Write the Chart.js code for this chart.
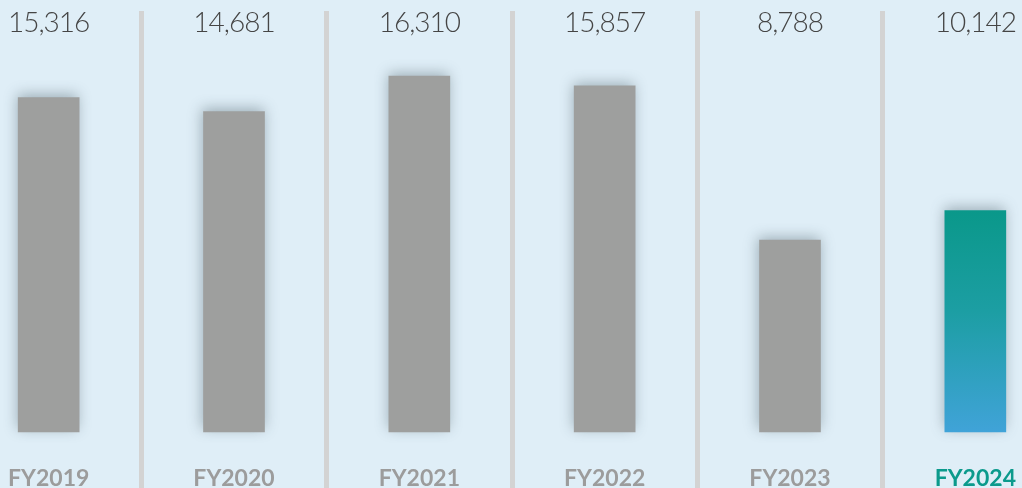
<!DOCTYPE html>
<html>
<head>
<meta charset="utf-8">
<script src="https://cdn.jsdelivr.net/npm/chart.js@4"></script>
<style>
  html, body { margin: 0; padding: 0; background: #dfeef7; overflow: hidden; }
  #wrap { position: absolute; left: -44px; top: 0; width: 1112px; height: 488px; }
</style>
</head>
<body>
<div id="wrap"><canvas id="chart"></canvas></div>
<script>
// Data
const years = ['FY2019', 'FY2020', 'FY2021', 'FY2022', 'FY2023', 'FY2024']
const values = [15316, 14681, 16310, 15857, 8788, 10142]

const formatNumber = (n) => n.toLocaleString('en-US')

const greyBar = '#9e9f9e'
const labelGrey = '#9c9c9c'
const teal = '#0b9a8c'

// gradient for last bar
const barColor = (ctx) => {
    if (ctx.dataIndex !== years.length - 1) return greyBar
    const chart = ctx.chart
    const area = chart.chartArea
    if (!area) return teal
    const y = chart.scales.y
    const g = chart.ctx.createLinearGradient(0, y.getPixelForValue(values[ctx.dataIndex]), 0, y.getPixelForValue(0))
    g.addColorStop(0, '#0a988a')
    g.addColorStop(0.45, '#1c9ea3')
    g.addColorStop(1, '#40a3d8')
    return g
}

// soft shadow behind bars
const shadowPlugin = {
    id: 'barShadow',
    beforeDatasetDraw(chart) {
        const c = chart.ctx
        c.save()
        c.shadowColor = 'rgba(55, 75, 85, 0.4)'
        c.shadowBlur = 13
        c.shadowOffsetX = -1
        c.shadowOffsetY = -3
    },
    afterDatasetDraw(chart) {
        chart.ctx.restore()
    }
}

// value labels on top, year labels at bottom
const labelsPlugin = {
    id: 'textLabels',
    afterDraw(chart) {
        const c = chart.ctx
        const x = chart.scales.x
        c.save()
        c.textAlign = 'center'
        years.forEach((yr, i) => {
            const px = x.getPixelForValue(i)
            c.font = '300 28px Lato'
            c.letterSpacing = '-1px'
            c.fillStyle = '#454545'
            c.textBaseline = 'middle'
            c.fillText(formatNumber(values[i]), px, 23)
            c.font = 'bold 23px Lato'
            c.letterSpacing = '0px'
            c.fillStyle = i === years.length - 1 ? teal : labelGrey
            c.textBaseline = 'alphabetic'
            c.fillText(yr, px, 486)
        })
        c.restore()
    }
}

new Chart(document.getElementById('chart'), {
    type: 'bar',
    data: {
        labels: years,
        datasets: [{
            data: values,
            backgroundColor: barColor,
            borderWidth: 0,
            barThickness: 61,
        }]
    },
    options: {
        responsive: true,
        maintainAspectRatio: false,
        animation: false,
        layout: { padding: { top: 11, left: 0, right: 0, bottom: 0 } },
        plugins: { legend: { display: false }, tooltip: { enabled: false } },
        scales: {
            x: {
                offset: true,
                grid: { display: true, offset: true, color: '#d3d3d3', lineWidth: 5, drawTicks: false },
                border: { display: false },
                ticks: { display: false }
            },
            y: {
                display: false,
                min: -2566,
                max: 19288,
                grid: { display: false }
            }
        }
    },
    plugins: [shadowPlugin, labelsPlugin]
})
</script>
</body>
</html>
